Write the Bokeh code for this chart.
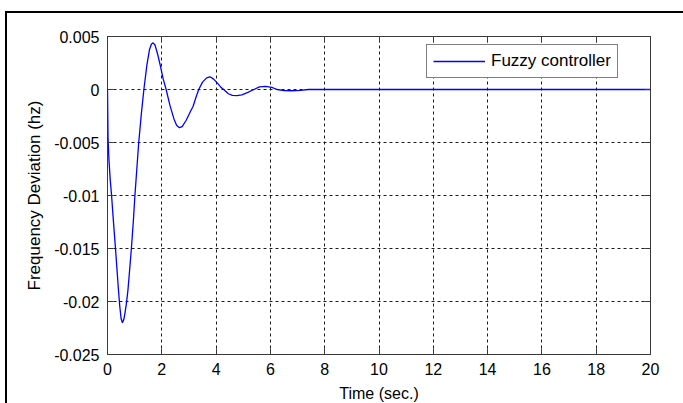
from bokeh.plotting import figure
from bokeh.models import (FixedTicker, LinearAxis, Range1d, Legend, LegendItem,
                          CustomLabelingPolicy)
from bokeh.embed import file_html
from bokeh.resources import INLINE

# Data
time_s = [0, 0.02, 0.05, 0.1, 0.15, 0.2, 0.25, 0.3, 0.35, 0.4, 0.45, 0.5, 0.55,
          0.6, 0.65, 0.7, 0.75, 0.8, 0.88, 0.95, 1.01, 1.08, 1.15, 1.25, 1.34,
          1.45, 1.55, 1.62, 1.68, 1.75, 1.85, 1.95, 2.05, 2.16, 2.3, 2.45, 2.55,
          2.65, 2.75, 2.9, 3.05, 3.15, 3.25, 3.36, 3.5, 3.65, 3.77, 3.9, 4.05,
          4.18, 4.28, 4.45, 4.6, 4.77, 4.95, 5.15, 5.39, 5.6, 5.82, 6.05, 6.25,
          6.5, 6.8, 7.1, 7.4, 8, 20]
freq_dev = [0, -0.0045, -0.0065, -0.0085, -0.0100, -0.0118, -0.0135, -0.0152,
            -0.0170, -0.0188, -0.0204, -0.0216, -0.0220, -0.0217, -0.0210,
            -0.0201, -0.0190, -0.0175, -0.0150, -0.0125, -0.0100, -0.0075,
            -0.0050, -0.0022, 0.0, 0.0023, 0.0038, 0.0043, 0.0044, 0.0042,
            0.0033, 0.0022, 0.0010, 0.0, -0.0015, -0.0028, -0.0034, -0.0036,
            -0.0035, -0.0029, -0.0021, -0.0016, -0.0008, 0.0, 0.0007, 0.0011,
            0.0012, 0.0010, 0.0006, 0.0002, 0.0, -0.0004, -0.00055, -0.00057,
            -0.0005, -0.0003, 0.0, 0.00025, 0.0003, 0.0002, 0.0, -0.0001,
            -0.00012, -0.00008, 0.0, 0.0, 0.0]

x_ticks = [0, 2, 4, 6, 8, 10, 12, 14, 16, 18, 20]
y_ticks = [-0.025, -0.02, -0.015, -0.01, -0.005, 0, 0.005]
y_tick_labels = ["-0.025", "-0.02", "-0.015", "-0.01", "-0.005", "0", "0.005"]
series_name = "Fuzzy controller"

FONT = "Liberation Sans"

p = figure(frame_width=543, frame_height=318,
           x_range=Range1d(0, 20), y_range=Range1d(-0.025, 0.005),
           output_backend="svg", toolbar_location=None,
           min_border_left=100, min_border_right=31,
           min_border_top=23, min_border_bottom=47,
           background_fill_color="white", border_fill_color="white")
p.styles = {"margin-left": "5px", "margin-top": "11px",
            "border-left": "2px solid black", "border-top": "2px solid black"}

p.outline_line_color = "#3a3a3a"
p.outline_line_width = 1

p.xaxis.ticker = FixedTicker(ticks=x_ticks)
p.yaxis.ticker = FixedTicker(ticks=y_ticks)
p.yaxis.major_label_overrides = {v: s for v, s in zip(y_ticks, y_tick_labels)}

for ax in p.xaxis + p.yaxis:
    ax.axis_line_color = None
    ax.major_tick_in = 6
    ax.major_tick_out = 0
    ax.major_tick_line_color = "#3a3a3a"
    ax.minor_tick_line_color = None
    ax.major_label_text_font = FONT
    ax.major_label_text_font_size = "16px"
    ax.major_label_text_color = "black"
    ax.axis_label_text_font = FONT
    ax.axis_label_text_font_style = "normal"
    ax.axis_label_text_color = "black"

p.xaxis.axis_label = "Time (sec.)"
p.xaxis.axis_label_text_font_size = "16px"
p.xaxis.major_label_standoff = 8
p.xaxis.axis_label_standoff = 7
p.yaxis.axis_label = "Frequency Deviation (hz)"
p.yaxis.axis_label_text_font_size = "17px"
p.yaxis.major_label_standoff = 8
p.yaxis.axis_label_standoff = 7

# mirrored tick marks on the top and right sides (no labels)
no_labels = CustomLabelingPolicy(code="return new Set()")
for loc, tk in (("above", x_ticks), ("right", y_ticks)):
    ax = LinearAxis(ticker=FixedTicker(ticks=tk), axis_line_color=None,
                    major_tick_in=6, major_tick_out=0,
                    major_tick_line_color="#3a3a3a", minor_tick_line_color=None,
                    major_label_policy=no_labels, major_label_standoff=0)
    p.add_layout(ax, loc)

p.xgrid.ticker = FixedTicker(ticks=x_ticks)
p.ygrid.ticker = FixedTicker(ticks=y_ticks)
p.grid.grid_line_color = "#1a1a1a"
p.grid.grid_line_dash = "3 3"
p.grid.grid_line_width = 1

r = p.line(time_s, freq_dev, line_color="#0000ff", line_width=1.3)

legend = Legend(items=[LegendItem(label=series_name, renderers=[r])],
                location=(319, 276))
legend.border_line_color = "black"
legend.border_line_width = 1
legend.background_fill_color = "white"
legend.background_fill_alpha = 1
legend.padding = 6
legend.spacing = 0
legend.margin = 0
legend.glyph_width = 52
legend.glyph_height = 16
legend.label_standoff = 6
legend.label_text_font = FONT
legend.label_text_font_size = "17px"
legend.label_text_color = "black"
p.add_layout(legend)

open("out.html", "w").write(file_html(p, INLINE))
